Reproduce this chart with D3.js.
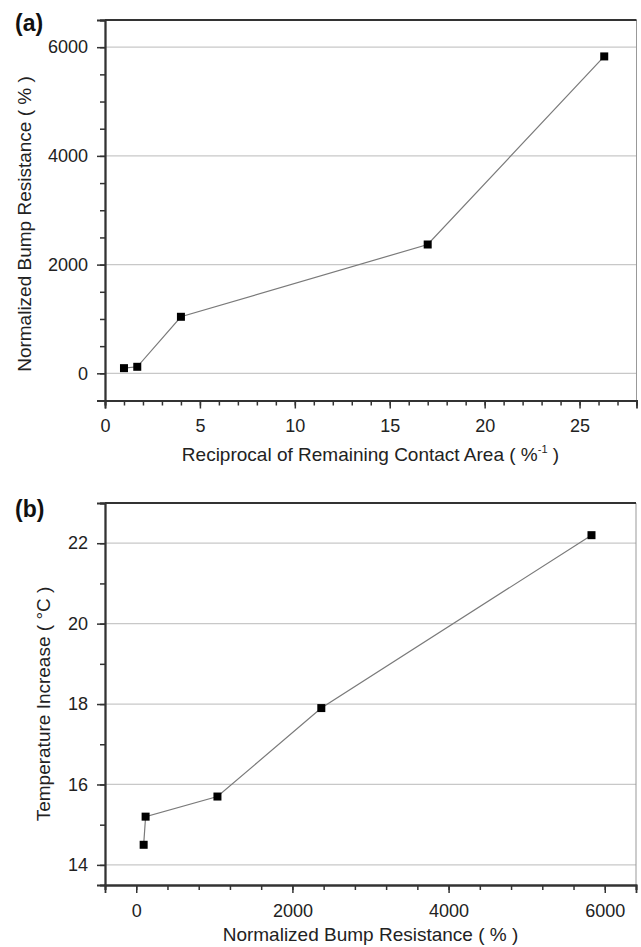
<!DOCTYPE html>
<html>
<head>
<meta charset="utf-8">
<script src="https://cdn.jsdelivr.net/npm/d3@7"></script>
<style>
  html, body { margin: 0; padding: 0; background: #fff; }
  svg { display: block; font-family: "Liberation Sans", Arial, Helvetica, sans-serif; }
</style>
</head>
<body>
<svg id="chart" width="641" height="947"></svg>
<script>
// ---- Data ----
const reciprocalArea = [1.0, 1.7, 4.0, 17.0, 26.3];          // %^-1
const bumpResistance = [95, 120, 1040, 2370, 5830];           // %
const tempIncrease   = [14.5, 15.2, 15.7, 17.9, 22.2];        // °C

const aXTicks = [0, 5, 10, 15, 20, 25];
const aYTicks = [0, 2000, 4000, 6000];
const bXTicks = [0, 2000, 4000, 6000];
const bYTicks = [14, 16, 18, 20, 22];

const svg = d3.select("#chart");

function panel(cfg) {
  const { xDomain, yDomain, left, right, top, bottom, xs, ys,
          xMajor, yMajor, xMinorStep, yMinorStep } = cfg;
  const x = d3.scaleLinear().domain(xDomain).range([left, right]);
  const y = d3.scaleLinear().domain(yDomain).range([bottom, top]);
  const g = svg.append("g");

  // gridlines at major y ticks
  g.append("g").selectAll("line").data(yMajor).join("line")
    .attr("x1", left).attr("x2", right)
    .attr("y1", d => y(d)).attr("y2", d => y(d))
    .attr("stroke", "#c8c8c8").attr("stroke-width", 1.2);

  // frame: right (gray), top (dark)
  g.append("line").attr("x1", right).attr("x2", right).attr("y1", top).attr("y2", bottom)
    .attr("stroke", "#999").attr("stroke-width", 1);
  g.append("line").attr("x1", left).attr("x2", right).attr("y1", top).attr("y2", top)
    .attr("stroke", "#333").attr("stroke-width", 1.8);

  // minor ticks
  const xMinor = d3.range(Math.ceil(xDomain[0] / xMinorStep) * xMinorStep, xDomain[1] + 1e-9, xMinorStep);
  const yMinor = d3.range(Math.ceil(yDomain[0] / yMinorStep) * yMinorStep, yDomain[1] + 1e-9, yMinorStep);

  const xMinAxis = g.append("g").attr("transform", `translate(0,${bottom})`)
    .call(d3.axisBottom(x).tickValues(xMinor).tickSize(5).tickFormat(""));
  const yMinAxis = g.append("g").attr("transform", `translate(${left},0)`)
    .call(d3.axisLeft(y).tickValues(yMinor).tickSize(5).tickFormat(""));

  const xAx = g.append("g").attr("transform", `translate(0,${bottom})`)
    .call(d3.axisBottom(x).tickValues(xMajor).tickSize(8).tickPadding(11).tickFormat(d3.format("d")));
  const yAx = g.append("g").attr("transform", `translate(${left},0)`)
    .call(d3.axisLeft(y).tickValues(yMajor).tickSize(8).tickPadding(9).tickFormat(d3.format("d")));

  [xMinAxis, yMinAxis, xAx, yAx].forEach(a => {
    a.select(".domain").attr("stroke", "#333").attr("stroke-width", 1.8);
    a.selectAll(".tick line").attr("stroke", "#333").attr("stroke-width", 1.5);
    a.selectAll("text").attr("font-size", 18).attr("fill", "#222")
      .attr("font-family", "'Liberation Sans', Arial, sans-serif");
  });

  // line + markers
  const pts = xs.map((v, i) => [v, ys[i]]);
  g.append("path").datum(pts)
    .attr("fill", "none").attr("stroke", "#7a7a7a").attr("stroke-width", 1.2)
    .attr("d", d3.line().x(d => x(d[0])).y(d => y(d[1])));
  const s = 8;
  g.append("g").selectAll("rect").data(pts).join("rect")
    .attr("x", d => x(d[0]) - s / 2).attr("y", d => y(d[1]) - s / 2)
    .attr("width", s).attr("height", s).attr("fill", "#000");

  return { x, y, g };
}

// ---- Panel (a) ----
panel({
  xDomain: [0, 28], yDomain: [-500, 6500],
  left: 105, right: 636.5, top: 20, bottom: 400.5,
  xs: reciprocalArea, ys: bumpResistance,
  xMajor: aXTicks, yMajor: aYTicks, xMinorStep: 1, yMinorStep: 500
});

// ---- Panel (b) ----
panel({
  xDomain: [-400, 6400], yDomain: [13.5, 23],
  left: 105, right: 636, top: 503, bottom: 885,
  xs: bumpResistance, ys: tempIncrease,
  xMajor: bXTicks, yMajor: bYTicks, xMinorStep: 400, yMinorStep: 1
});

// ---- Labels ----
svg.append("text").attr("x", 15).attr("y", 31)
  .attr("font-size", 23).attr("font-weight", "bold").attr("fill", "#111").text("(a)");
svg.append("text").attr("x", 15).attr("y", 517)
  .attr("font-size", 23).attr("font-weight", "bold").attr("fill", "#111").text("(b)");

// top y title
svg.append("text").attr("transform", "translate(31,224) rotate(-90)")
  .attr("text-anchor", "middle").attr("font-size", 19).attr("fill", "#222")
  .text("Normalized Bump Resistance ( % )");

// top x title with superscript
const tx = svg.append("text").attr("x", 370.5).attr("y", 461)
  .attr("text-anchor", "middle").attr("font-size", 19).attr("fill", "#222");
tx.append("tspan").text("Reciprocal of Remaining Contact Area ( %");
tx.append("tspan").attr("font-size", 11).attr("dy", -8).text("-1");
tx.append("tspan").attr("dy", 8).text(" )");

// bottom y title
svg.append("text").attr("transform", "translate(50,704) rotate(-90)")
  .attr("text-anchor", "middle").attr("font-size", 19).attr("fill", "#222")
  .text("Temperature Increase ( °C )");

// bottom x title
svg.append("text").attr("x", 370.5).attr("y", 941)
  .attr("text-anchor", "middle").attr("font-size", 19).attr("fill", "#222")
  .text("Normalized Bump Resistance ( % )");
</script>
</body>
</html>
